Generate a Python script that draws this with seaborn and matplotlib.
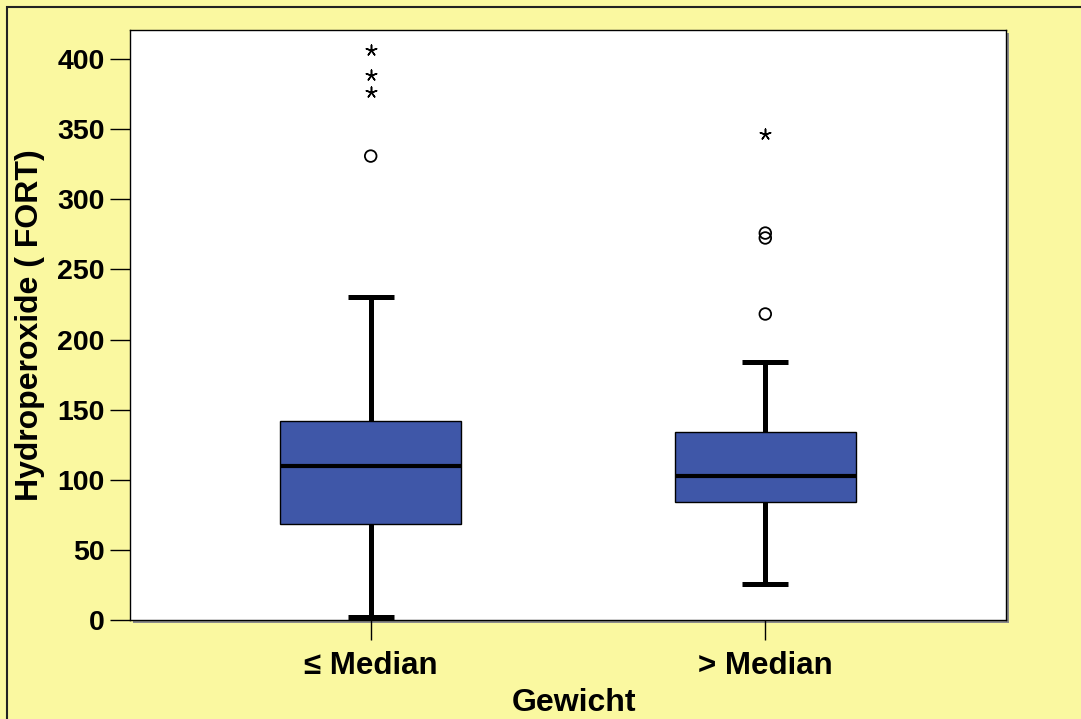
import matplotlib
matplotlib.use("Agg")
import matplotlib.pyplot as plt
import seaborn as sns
import pandas as pd
from matplotlib.patches import Rectangle

# Box summary per weight group
groups = ["≤ Median", "> Median"]
q1 = [68.4, 84.1]
median = [109.8, 102.7]
q3 = [141.9, 134.0]
whisker_low = [2.1, 25.7]
whisker_high = [230.3, 184.0]

# Outliers (circles) and extreme values (stars)
outlier_group = ["≤ Median", "> Median", "> Median", "> Median"]
outlier_value = [330.8, 218.2, 272.4, 275.9]
extreme_group = ["≤ Median", "≤ Median", "≤ Median", "> Median"]
extreme_value = [376.5, 388.6, 406.4, 346.5]

yticks = [0, 50, 100, 150, 200, 250, 300, 350, 400]

sns.set_style("ticks")
plt.rcParams["font.family"] = ["Liberation Sans", "DejaVu Sans"]
plt.rcParams["font.weight"] = "bold"
plt.rcParams["text.color"] = "black"
plt.rcParams["axes.labelcolor"] = "black"
plt.rcParams["xtick.color"] = "black"
plt.rcParams["ytick.color"] = "black"

W, H = 1081, 719
bg = "#FAF8A0"
box_color = "#3F57A8"

fig = plt.figure(figsize=(W / 100, H / 100), dpi=100, facecolor=bg)

# outer frame of the figure
fig.patches.append(Rectangle((7 / W, -0.05), 1.05, 1 - 7 / H + 0.05,
                             transform=fig.transFigure, fill=False,
                             edgecolor="#222222", linewidth=1.5, zorder=0))

ax_l, ax_b, ax_w, ax_h = 130 / W, (H - 620) / H, 876 / W, 590 / H
# drop shadow of the plot area
fig.patches.append(Rectangle((ax_l + 3 / W, ax_b - 3 / H), ax_w, ax_h,
                             transform=fig.transFigure, facecolor="#8a8a8a",
                             edgecolor="none", zorder=0))
ax = fig.add_axes([ax_l, ax_b, ax_w, ax_h])
ax.set_zorder(2)
ax.set_facecolor("white")

stats = []
for i, g in enumerate(groups):
    stats.append(dict(label=g, q1=q1[i], med=median[i], q3=q3[i],
                      whislo=whisker_low[i], whishi=whisker_high[i], fliers=[]))

ax.bxp(stats, positions=[0, 1], widths=0.46, capwidths=0.117,
       patch_artist=True, showfliers=False,
       boxprops=dict(facecolor=box_color, edgecolor="black", linewidth=1.0),
       medianprops=dict(color="black", linewidth=3.0, solid_capstyle="butt"),
       whiskerprops=dict(color="black", linewidth=3.6, solid_capstyle="butt"),
       capprops=dict(color="black", linewidth=3.6, solid_capstyle="butt"),
       zorder=2)

pos = {g: i for i, g in enumerate(groups)}
df_out = pd.DataFrame({"x": [pos[g] for g in outlier_group], "y": outlier_value})
df_ext = pd.DataFrame({"x": [pos[g] for g in extreme_group], "y": extreme_value})

sns.scatterplot(data=df_out, x="x", y="y", ax=ax, marker="o", s=70,
                facecolor="none", edgecolor="black", linewidth=1.3, zorder=3)
sns.scatterplot(data=df_ext, x="x", y="y", ax=ax, marker=(5, 2), s=60,
                color="black", edgecolor="black", linewidth=1.1, zorder=3)

ax.set_xlim(-0.61, 1.61)
ax.set_ylim(0, 420.7)
ax.set_xticks([0, 1])
ax.set_xticklabels(groups, fontsize=22.5, fontweight="bold")
ax.set_yticks(yticks)
ax.set_yticklabels([str(v) for v in yticks], fontsize=20.5, fontweight="bold")
ax.tick_params(axis="both", direction="out", length=14.4, width=1.0,
               color="black", labelcolor="black")
ax.tick_params(axis="x", pad=8)
ax.tick_params(axis="y", pad=4)

for sp in ax.spines.values():
    sp.set_visible(True)
    sp.set_color("black")
    sp.set_linewidth(1.0)

ax.set_ylabel("Hydroperoxide ( FORT)", fontsize=23, fontweight="bold",
              color="black")
ax.yaxis.set_label_coords(30 / W, ax_b + ax_h / 2, transform=fig.transFigure)
ax.yaxis.label.set_va("center")
ax.set_xlabel("Gewicht", fontsize=23, fontweight="bold", color="black")
ax.xaxis.set_label_coords(574 / W, 1 / H, transform=fig.transFigure)
ax.xaxis.label.set_va("bottom")

fig.savefig("out.png", dpi=100, facecolor=bg)
